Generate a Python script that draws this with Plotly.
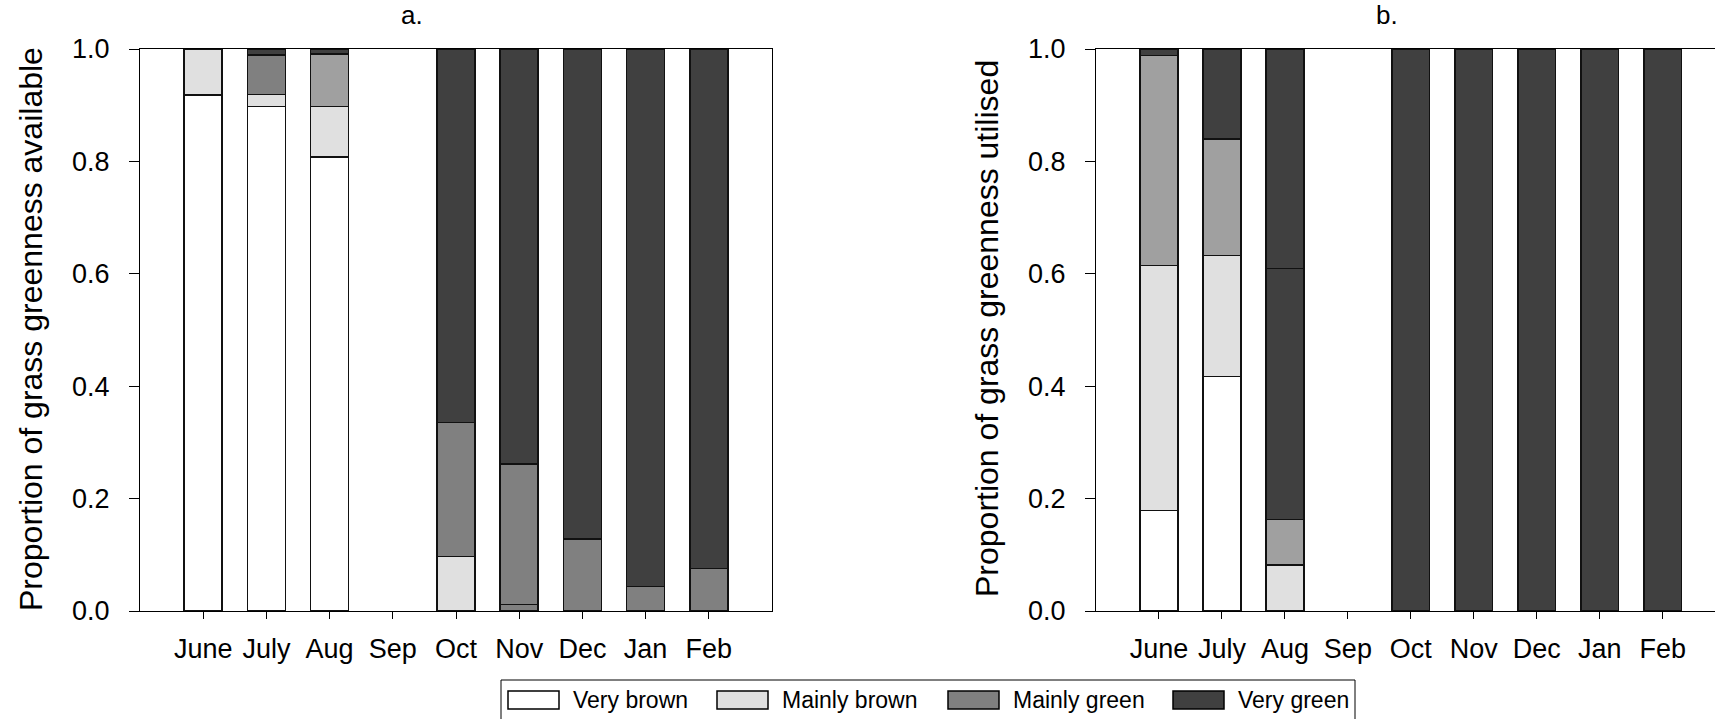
import plotly.graph_objects as go

W, H = 1715, 719

months = ["June", "July", "Aug", "Sep", "Oct", "Nov", "Dec", "Jan", "Feb"]
series_names = ["Very brown", "Mainly brown", "Mainly green", "Very green"]

# Panel a: proportion of grass greenness available
avail_very_brown = [0.918, 0.898, 0.808, 0, 0, 0, 0, 0, 0]
avail_mainly_brown = [0.082, 0.021, 0.090, 0, 0.097, 0.012, 0, 0, 0]
avail_mainly_green = [0, 0.070, 0.093, 0, 0.238, 0.250, 0.128, 0.044, 0.076]
avail_very_green = [0, 0.011, 0.009, 0, 0.665, 0.738, 0.872, 0.956, 0.924]

# Panel b: proportion of grass greenness utilised
util_very_brown = [0.179, 0.417, 0, 0, 0, 0, 0, 0, 0]
util_mainly_brown = [0.436, 0.216, 0.0815, 0, 0, 0, 0, 0, 0]
util_mainly_green = [0.373, 0.207, 0.0815, 0, 0, 0, 0, 0, 0]
util_very_green = [0.012, 0.160, 0.446, 0, 1.0, 1.0, 1.0, 1.0, 1.0]
util_very_green_extra = [0, 0, 0.391, 0, 0, 0, 0, 0, 0]  # second dark segment drawn in Aug

y_ticks = [0.0, 0.2, 0.4, 0.6, 0.8, 1.0]

base_colors = ["#ffffff", "#e0e0e0", "#808080", "#404040"]
FONT = "Liberation Sans, Arial, sans-serif"

def colors_for(base, overrides):
    c = [base] * len(months)
    for k, v in overrides.items():
        c[months.index(k)] = v
    return c

def nz(vals):
    # zero-height segments are not drawn
    return [v if v else None for v in vals]

panel_a = [
    (avail_very_brown, colors_for(base_colors[0], {}), series_names[0]),
    (avail_mainly_brown, colors_for(base_colors[1], {"Nov": "#808080"}), series_names[1]),
    (avail_mainly_green, colors_for(base_colors[2], {"Aug": "#a0a0a0"}), series_names[2]),
    (avail_very_green, colors_for(base_colors[3], {}), series_names[3]),
]
panel_b = [
    (util_very_brown, colors_for(base_colors[0], {}), series_names[0]),
    (util_mainly_brown, colors_for(base_colors[1], {}), series_names[1]),
    (util_mainly_green, colors_for("#a0a0a0", {}), series_names[2]),
    (util_very_green, colors_for(base_colors[3], {}), series_names[3]),
    (util_very_green_extra, colors_for(base_colors[3], {}), series_names[3]),
]

fig = go.Figure()
for vals, cols, name in panel_a:
    fig.add_trace(go.Bar(x=months, y=nz(vals), name=name, width=0.6,
                         marker=dict(color=cols, line=dict(color="#111111", width=1.5)),
                         xaxis="x", yaxis="y", showlegend=False))
for vals, cols, name in panel_b:
    fig.add_trace(go.Bar(x=months, y=nz(vals), name=name, width=0.6,
                         marker=dict(color=cols, line=dict(color="#111111", width=1.5)),
                         xaxis="x2", yaxis="y2", showlegend=False))

y0, y1 = (H - 611) / H, (H - 49) / H
axis_common = dict(showline=True, mirror=True, linecolor="#000000", linewidth=1,
                   showgrid=False, zeroline=False, ticks="outside", tickcolor="#000000",
                   automargin=False,
                   tickfont=dict(family=FONT, size=27, color="#000000"))

fig.update_layout(
    width=W, height=H, barmode="stack", template="none",
    margin=dict(l=0, r=0, t=0, b=0, pad=0, autoexpand=False),
    paper_bgcolor="white", plot_bgcolor="white",
    font=dict(family=FONT, color="#000000"),
    xaxis=dict(domain=[140 / W, 772 / W], range=[-1, 9], type="category",
               categoryorder="array", categoryarray=months, ticklen=7, tickangle=0,
               anchor="y", ticklabelstandoff=7, **axis_common),
    yaxis=dict(domain=[y0, y1], range=[0, 1], tickvals=y_ticks, tickformat=".1f",
               ticklen=10, anchor="x", ticklabelstandoff=14, **axis_common),
    xaxis2=dict(domain=[1096 / W, 1.0], range=[-1, 8.83], type="category",
                categoryorder="array", categoryarray=months, ticklen=7, tickangle=0,
                anchor="y2", ticklabelstandoff=7, **axis_common),
    yaxis2=dict(domain=[y0, y1], range=[0, 1], tickvals=y_ticks, tickformat=".1f",
                ticklen=10, anchor="x2", ticklabelstandoff=14, **axis_common),
)

ann = []
ann.append(dict(text="a.", x=412 / W, y=(H - 15) / H, xref="paper", yref="paper",
                showarrow=False, font=dict(family=FONT, size=26), xanchor="center", yanchor="middle"))
ann.append(dict(text="b.", x=1387 / W, y=(H - 15) / H, xref="paper", yref="paper",
                showarrow=False, font=dict(family=FONT, size=26), xanchor="center", yanchor="middle"))
ann.append(dict(text="Proportion of grass greenness available", x=31 / W, y=(H - 329) / H,
                xref="paper", yref="paper", showarrow=False, textangle=-90,
                font=dict(family=FONT, size=32), xanchor="center", yanchor="middle"))
ann.append(dict(text="Proportion of grass greenness utilised", x=987 / W, y=(H - 329) / H,
                xref="paper", yref="paper", showarrow=False, textangle=-90,
                font=dict(family=FONT, size=32), xanchor="center", yanchor="middle"))

shapes = []
# legend box
shapes.append(dict(type="rect", xref="paper", yref="paper",
                   x0=501 / W, x1=1355 / W, y0=-5 / H, y1=(H - 680) / H,
                   line=dict(color="#000000", width=1), fillcolor="white"))
swatch_x = [508, 717, 948, 1173]
for sx, name, col in zip(swatch_x, series_names, base_colors):
    shapes.append(dict(type="rect", xref="paper", yref="paper",
                       x0=sx / W, x1=(sx + 51) / W, y0=(H - 709) / H, y1=(H - 691) / H,
                       line=dict(color="#000000", width=1.5), fillcolor=col))
    ann.append(dict(text=name, x=(sx + 63) / W, y=(H - 700) / H, xref="paper", yref="paper",
                    showarrow=False, xanchor="left", yanchor="middle",
                    font=dict(family=FONT, size=23)))

fig.update_layout(annotations=ann, shapes=shapes)
fig.write_html("out.html")
